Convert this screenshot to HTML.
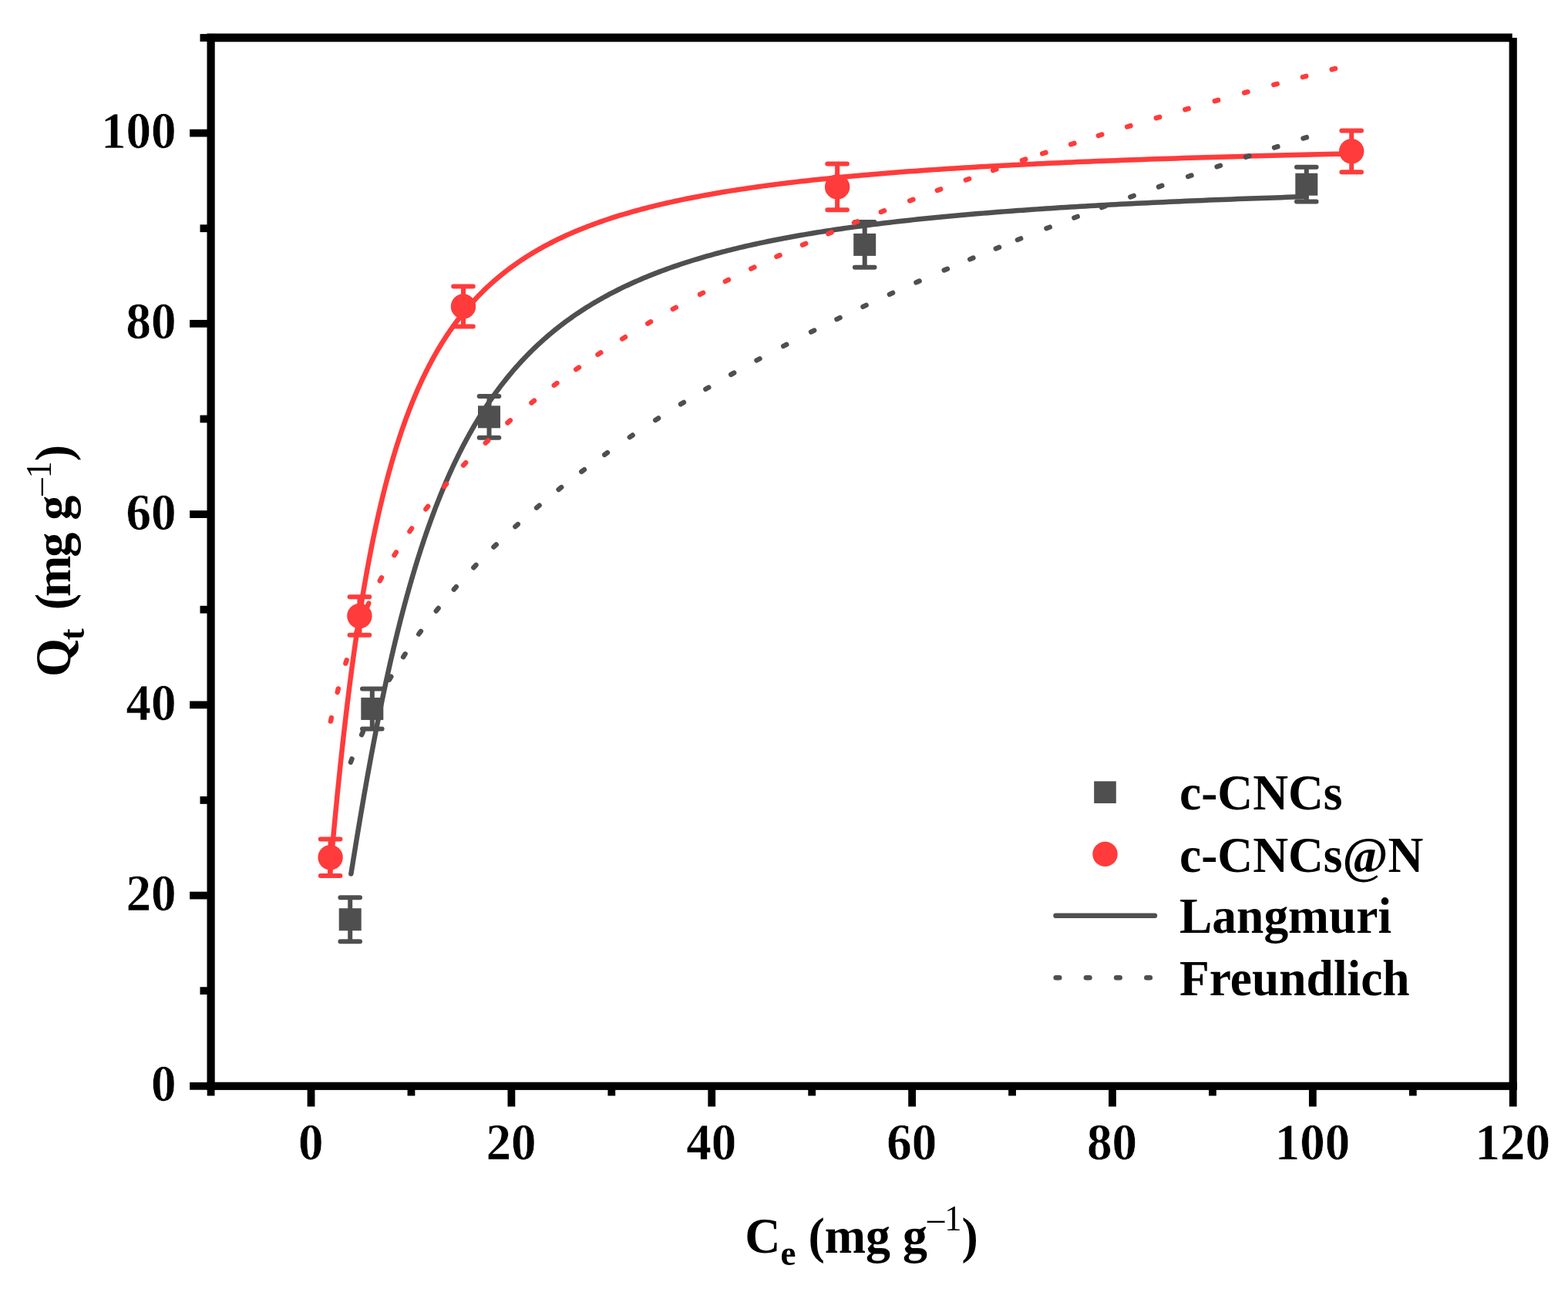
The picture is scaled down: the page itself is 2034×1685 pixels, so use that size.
<!DOCTYPE html>
<html lang="en">
<head>
<meta charset="utf-8">
<title>Adsorption isotherms</title>
<style>
html,body{margin:0;padding:0;background:#fff;}
body{width:2034px;height:1685px;overflow:hidden;}
svg{display:block;}
text{white-space:pre;}
</style>
</head>
<body>
<svg xmlns="http://www.w3.org/2000/svg" width="2034" height="1685" viewBox="0 0 2034 1685" font-family="'Liberation Serif', serif" font-weight="bold" font-size="64" fill="#000">
<style>#ticklabels text{stroke:#fff;stroke-width:0.5px;stroke-linejoin:round}</style>
<rect width="2034" height="1685" fill="#fff"/>
<g id="scatter-gray">
<path d="M454.20,1164.20V1221.20M441.40,1164.20H467.00M441.40,1221.20H467.00" fill="none" stroke="#4f4f4f" stroke-width="6" stroke-linecap="round"/>
<rect x="439.70" y="1178.20" width="29.0" height="29.0" fill="#4f4f4f"/>
<path d="M482.80,893.40V945.40M470.00,893.40H495.60M470.00,945.40H495.60" fill="none" stroke="#4f4f4f" stroke-width="6" stroke-linecap="round"/>
<rect x="468.30" y="904.90" width="29.0" height="29.0" fill="#4f4f4f"/>
<path d="M634.50,513.90V567.70M621.70,513.90H647.30M621.70,567.70H647.30" fill="none" stroke="#4f4f4f" stroke-width="6" stroke-linecap="round"/>
<rect x="620.00" y="526.30" width="29.0" height="29.0" fill="#4f4f4f"/>
<path d="M1121.70,288.10V346.70M1108.90,288.10H1134.50M1108.90,346.70H1134.50" fill="none" stroke="#4f4f4f" stroke-width="6" stroke-linecap="round"/>
<rect x="1107.20" y="302.90" width="29.0" height="29.0" fill="#4f4f4f"/>
<path d="M1694.80,216.80V261.60M1682.00,216.80H1707.60M1682.00,261.60H1707.60" fill="none" stroke="#4f4f4f" stroke-width="6" stroke-linecap="round"/>
<rect x="1680.30" y="224.70" width="29.0" height="29.0" fill="#4f4f4f"/>
</g>
<g id="scatter-red">
<path d="M428.60,1088.40V1136.00M415.80,1088.40H441.40M415.80,1136.00H441.40" fill="none" stroke="#ff3b3b" stroke-width="6" stroke-linecap="round"/>
<circle cx="428.60" cy="1112.20" r="16.2" fill="#ff3b3b"/>
<path d="M466.40,774.20V823.80M453.60,774.20H479.20M453.60,823.80H479.20" fill="none" stroke="#ff3b3b" stroke-width="6" stroke-linecap="round"/>
<circle cx="466.40" cy="799.00" r="16.2" fill="#ff3b3b"/>
<path d="M601.00,371.50V423.50M588.20,371.50H613.80M588.20,423.50H613.80" fill="none" stroke="#ff3b3b" stroke-width="6" stroke-linecap="round"/>
<circle cx="601.00" cy="397.50" r="16.2" fill="#ff3b3b"/>
<path d="M1086.10,212.55V272.25M1073.30,212.55H1098.90M1073.30,272.25H1098.90" fill="none" stroke="#ff3b3b" stroke-width="6" stroke-linecap="round"/>
<circle cx="1086.10" cy="242.40" r="16.2" fill="#ff3b3b"/>
<path d="M1753.20,169.40V223.20M1740.40,169.40H1766.00M1740.40,223.20H1766.00" fill="none" stroke="#ff3b3b" stroke-width="6" stroke-linecap="round"/>
<circle cx="1753.20" cy="196.30" r="16.2" fill="#ff3b3b"/>
</g>
<g id="fits">
<path d="M455.37,1133.54 L455.71,1131.45 L456.05,1129.34 L456.38,1127.22 L456.73,1125.09 L457.07,1122.95 L457.42,1120.80 L457.76,1118.64 L458.12,1116.46 L458.47,1114.28 L458.82,1112.09 L459.18,1109.88 L459.54,1107.66 L459.90,1105.44 L460.27,1103.20 L460.63,1100.95 L461.00,1098.69 L461.37,1096.42 L461.75,1094.14 L462.12,1091.85 L462.50,1089.55 L462.88,1087.24 L463.27,1084.91 L463.65,1082.58 L464.04,1080.24 L464.43,1077.88 L464.83,1075.52 L465.22,1073.14 L465.62,1070.76 L466.02,1068.37 L466.43,1065.96 L466.83,1063.55 L467.24,1061.12 L467.65,1058.69 L468.07,1056.24 L468.49,1053.79 L468.91,1051.33 L469.33,1048.85 L469.75,1046.37 L470.18,1043.88 L470.61,1041.38 L471.05,1038.86 L471.48,1036.34 L471.92,1033.81 L472.36,1031.27 L472.81,1028.73 L473.26,1026.17 L473.71,1023.60 L474.16,1021.03 L474.62,1018.45 L475.08,1015.85 L475.54,1013.25 L476.00,1010.64 L476.47,1008.03 L476.94,1005.40 L477.42,1002.76 L477.90,1000.12 L478.38,997.47 L478.86,994.81 L479.35,992.15 L479.84,989.47 L480.33,986.79 L480.83,984.10 L481.33,981.40 L481.83,978.70 L482.34,975.99 L482.85,973.27 L483.36,970.54 L483.87,967.81 L484.39,965.07 L484.92,962.32 L485.44,959.57 L485.97,956.81 L486.50,954.04 L487.04,951.27 L487.58,948.49 L488.12,945.71 L488.67,942.92 L489.22,940.12 L489.77,937.32 L490.33,934.51 L490.89,931.70 L491.46,928.88 L492.03,926.06 L492.60,923.23 L493.17,920.39 L493.75,917.55 L494.34,914.71 L494.92,911.86 L495.51,909.01 L496.11,906.15 L496.71,903.29 L497.31,900.43 L497.91,897.56 L498.52,894.69 L499.14,891.81 L499.76,888.93 L500.38,886.05 L501.00,883.16 L501.63,880.27 L502.27,877.38 L502.91,874.48 L503.55,871.58 L504.20,868.68 L504.85,865.78 L505.50,862.87 L506.16,859.96 L506.82,857.05 L507.49,854.14 L508.16,851.23 L508.84,848.31 L509.52,845.39 L510.20,842.48 L510.89,839.56 L511.59,836.64 L512.29,833.72 L512.99,830.79 L513.70,827.87 L514.41,824.95 L515.13,822.02 L515.85,819.10 L516.57,816.18 L517.30,813.25 L518.04,810.33 L518.78,807.41 L519.52,804.49 L520.27,801.56 L521.03,798.64 L521.79,795.72 L522.55,792.80 L523.32,789.89 L524.10,786.97 L524.87,784.06 L525.66,781.14 L526.45,778.23 L527.24,775.32 L528.04,772.42 L528.85,769.51 L529.66,766.61 L530.47,763.71 L531.29,760.81 L532.12,757.92 L532.95,755.03 L533.79,752.14 L534.63,749.25 L535.48,746.37 L536.33,743.49 L537.19,740.62 L538.05,737.75 L538.92,734.88 L539.80,732.02 L540.68,729.16 L541.56,726.30 L542.45,723.45 L543.35,720.61 L544.26,717.77 L545.17,714.93 L546.08,712.10 L547.00,709.27 L547.93,706.45 L548.86,703.63 L549.80,700.82 L550.75,698.02 L551.70,695.22 L552.66,692.43 L553.62,689.64 L554.59,686.86 L555.57,684.08 L556.55,681.31 L557.54,678.55 L558.53,675.79 L559.54,673.04 L560.54,670.30 L561.56,667.56 L562.58,664.83 L563.61,662.11 L564.64,659.40 L565.69,656.69 L566.73,653.99 L567.79,651.30 L568.85,648.61 L569.92,645.93 L570.99,643.26 L572.08,640.60 L573.17,637.94 L574.26,635.30 L575.37,632.66 L576.48,630.03 L577.59,627.41 L578.72,624.79 L579.85,622.19 L580.99,619.59 L582.14,617.00 L583.29,614.42 L584.45,611.85 L585.62,609.29 L586.80,606.74 L587.98,604.20 L589.18,601.66 L590.38,599.14 L591.58,596.62 L592.80,594.12 L594.02,591.62 L595.25,589.13 L596.49,586.65 L597.74,584.18 L599.00,581.73 L600.26,579.28 L601.53,576.84 L602.81,574.41 L604.10,571.99 L605.40,569.58 L606.70,567.18 L608.01,564.79 L609.33,562.41 L610.67,560.04 L612.00,557.68 L613.35,555.34 L614.71,553.00 L616.07,550.67 L617.45,548.35 L618.83,546.05 L620.22,543.75 L621.62,541.46 L623.03,539.19 L624.45,536.92 L625.88,534.67 L627.31,532.43 L628.76,530.19 L630.22,527.97 L631.68,525.76 L633.16,523.56 L634.64,521.37 L636.13,519.19 L637.64,517.03 L639.15,514.87 L640.67,512.72 L642.21,510.59 L643.75,508.47 L645.30,506.35 L646.86,504.25 L648.44,502.16 L650.02,500.08 L651.61,498.01 L653.22,495.96 L654.83,493.91 L656.45,491.88 L658.09,489.85 L659.73,487.84 L661.39,485.84 L663.06,483.85 L664.73,481.87 L666.42,479.90 L668.12,477.94 L669.83,476.00 L671.55,474.06 L673.29,472.14 L675.03,470.22 L676.78,468.32 L678.55,466.43 L680.33,464.55 L682.12,462.69 L683.92,460.83 L685.73,458.98 L687.55,457.15 L689.39,455.32 L691.24,453.51 L693.10,451.71 L694.97,449.92 L696.85,448.14 L698.75,446.37 L700.66,444.61 L702.58,442.87 L704.51,441.13 L706.45,439.41 L708.41,437.69 L710.38,435.99 L712.37,434.30 L714.36,432.62 L716.37,430.95 L718.39,429.29 L720.43,427.64 L722.48,426.00 L724.54,424.38 L726.61,422.76 L728.70,421.15 L730.80,419.56 L732.92,417.98 L735.05,416.40 L737.19,414.84 L739.35,413.29 L741.52,411.74 L743.70,410.21 L745.90,408.69 L748.11,407.18 L750.34,405.68 L752.58,404.19 L754.84,402.71 L757.11,401.24 L759.39,399.78 L761.69,398.33 L764.01,396.89 L766.34,395.47 L768.68,394.05 L771.04,392.64 L773.42,391.24 L775.81,389.85 L778.22,388.47 L780.64,387.10 L783.08,385.75 L785.53,384.40 L788.00,383.06 L790.48,381.73 L792.98,380.41 L795.50,379.10 L798.03,377.80 L800.58,376.51 L803.15,375.23 L805.73,373.95 L808.33,372.69 L810.95,371.44 L813.58,370.20 L816.23,368.96 L818.90,367.74 L821.58,366.52 L824.29,365.31 L827.01,364.12 L829.74,362.93 L832.50,361.75 L835.27,360.58 L838.06,359.42 L840.87,358.26 L843.70,357.12 L846.54,355.99 L849.40,354.86 L852.29,353.74 L855.19,352.63 L858.11,351.53 L861.04,350.44 L864.00,349.36 L866.98,348.29 L869.97,347.22 L872.99,346.16 L876.02,345.11 L879.08,344.07 L882.15,343.04 L885.24,342.01 L888.36,341.00 L891.49,339.99 L894.64,338.99 L897.82,338.00 L901.01,337.01 L904.23,336.04 L907.47,335.07 L910.72,334.11 L914.00,333.16 L917.30,332.21 L920.62,331.27 L923.96,330.34 L927.33,329.42 L930.71,328.51 L934.12,327.60 L937.55,326.70 L941.00,325.81 L944.47,324.92 L947.97,324.04 L951.49,323.17 L955.03,322.31 L958.60,321.45 L962.18,320.61 L965.79,319.76 L969.43,318.93 L973.09,318.10 L976.77,317.28 L980.47,316.47 L984.20,315.66 L987.95,314.86 L991.73,314.06 L995.53,313.28 L999.36,312.50 L1003.21,311.72 L1007.09,310.95 L1010.99,310.19 L1014.91,309.44 L1018.87,308.69 L1022.84,307.95 L1026.85,307.21 L1030.87,306.49 L1034.93,305.76 L1039.01,305.05 L1043.12,304.34 L1047.25,303.63 L1051.41,302.93 L1055.60,302.24 L1059.81,301.55 L1064.06,300.87 L1068.33,300.20 L1072.62,299.53 L1076.95,298.87 L1081.30,298.21 L1085.68,297.56 L1090.09,296.91 L1094.53,296.27 L1098.99,295.64 L1103.49,295.01 L1108.01,294.39 L1112.56,293.77 L1117.15,293.16 L1121.76,292.55 L1126.40,291.95 L1131.07,291.35 L1135.78,290.76 L1140.51,290.17 L1145.27,289.59 L1150.07,289.01 L1154.89,288.44 L1159.75,287.88 L1164.64,287.32 L1169.56,286.76 L1174.51,286.21 L1179.49,285.66 L1184.51,285.12 L1189.55,284.59 L1194.63,284.06 L1199.75,283.53 L1204.89,283.01 L1210.07,282.49 L1215.29,281.98 L1220.53,281.47 L1225.81,280.97 L1231.13,280.47 L1236.48,279.97 L1241.86,279.48 L1247.28,279.00 L1252.73,278.51 L1258.22,278.04 L1263.75,277.56 L1269.31,277.10 L1274.90,276.63 L1280.53,276.17 L1286.20,275.72 L1291.91,275.26 L1297.65,274.82 L1303.43,274.37 L1309.24,273.93 L1315.10,273.50 L1320.99,273.07 L1326.92,272.64 L1332.89,272.22 L1338.89,271.80 L1344.94,271.38 L1351.02,270.97 L1357.15,270.56 L1363.31,270.15 L1369.52,269.75 L1375.76,269.36 L1382.04,268.96 L1388.37,268.57 L1394.73,268.19 L1401.14,267.80 L1407.59,267.42 L1414.08,267.05 L1420.61,266.67 L1427.18,266.31 L1433.80,265.94 L1440.46,265.58 L1447.16,265.22 L1453.91,264.86 L1460.69,264.51 L1467.53,264.16 L1474.40,263.82 L1481.33,263.47 L1488.29,263.13 L1495.30,262.80 L1502.36,262.46 L1509.46,262.13 L1516.61,261.81 L1523.80,261.48 L1531.05,261.16 L1538.33,260.84 L1545.67,260.53 L1553.05,260.22 L1560.48,259.91 L1567.96,259.60 L1575.48,259.30 L1583.06,259.00 L1590.68,258.70 L1598.36,258.40 L1606.08,258.11 L1613.85,257.82 L1621.67,257.53 L1629.55,257.25 L1637.47,256.97 L1645.45,256.69 L1653.47,256.41 L1661.55,256.14 L1669.68,255.87 L1677.87,255.60 L1686.10,255.33 L1694.39,255.07" fill="none" stroke="#4f4f4f" stroke-width="6.5" stroke-linecap="round" stroke-linejoin="round"/>
<path d="M428.22,1131.36 L428.42,1129.10 L428.62,1126.83 L428.82,1124.55 L429.02,1122.26 L429.23,1119.95 L429.43,1117.64 L429.64,1115.30 L429.85,1112.96 L430.06,1110.60 L430.28,1108.23 L430.49,1105.85 L430.71,1103.45 L430.93,1101.05 L431.15,1098.62 L431.37,1096.19 L431.60,1093.75 L431.82,1091.29 L432.05,1088.82 L432.28,1086.33 L432.51,1083.84 L432.74,1081.33 L432.98,1078.81 L433.22,1076.28 L433.46,1073.73 L433.70,1071.17 L433.94,1068.60 L434.18,1066.02 L434.43,1063.43 L434.68,1060.82 L434.93,1058.21 L435.18,1055.58 L435.44,1052.94 L435.70,1050.28 L435.95,1047.62 L436.22,1044.94 L436.48,1042.26 L436.74,1039.56 L437.01,1036.85 L437.28,1034.13 L437.55,1031.40 L437.83,1028.65 L438.10,1025.90 L438.38,1023.13 L438.66,1020.36 L438.94,1017.57 L439.23,1014.77 L439.52,1011.96 L439.81,1009.15 L440.10,1006.32 L440.39,1003.48 L440.69,1000.63 L440.99,997.77 L441.29,994.90 L441.59,992.02 L441.90,989.13 L442.21,986.23 L442.52,983.32 L442.83,980.41 L443.15,977.48 L443.47,974.54 L443.79,971.60 L444.12,968.65 L444.44,965.68 L444.77,962.71 L445.10,959.73 L445.44,956.74 L445.78,953.74 L446.12,950.74 L446.46,947.73 L446.80,944.71 L447.15,941.68 L447.50,938.64 L447.86,935.60 L448.21,932.54 L448.57,929.48 L448.94,926.42 L449.30,923.35 L449.67,920.27 L450.04,917.18 L450.42,914.09 L450.79,910.99 L451.18,907.88 L451.56,904.77 L451.95,901.65 L452.34,898.53 L452.73,895.40 L453.12,892.27 L453.52,889.13 L453.93,885.98 L454.33,882.83 L454.74,879.68 L455.15,876.52 L455.57,873.36 L455.99,870.19 L456.41,867.01 L456.84,863.84 L457.26,860.66 L457.70,857.48 L458.13,854.29 L458.57,851.10 L459.02,847.90 L459.46,844.71 L459.91,841.51 L460.37,838.31 L460.82,835.10 L461.29,831.89 L461.75,828.69 L462.22,825.47 L462.69,822.26 L463.17,819.05 L463.65,815.83 L464.13,812.61 L464.62,809.40 L465.11,806.18 L465.61,802.96 L466.11,799.74 L466.61,796.52 L467.12,793.30 L467.63,790.07 L468.15,786.85 L468.67,783.63 L469.19,780.41 L469.72,777.19 L470.25,773.98 L470.79,770.76 L471.33,767.54 L471.88,764.33 L472.43,761.11 L472.98,757.90 L473.54,754.69 L474.10,751.49 L474.67,748.28 L475.25,745.08 L475.82,741.88 L476.40,738.68 L476.99,735.49 L477.58,732.29 L478.18,729.11 L478.78,725.92 L479.39,722.74 L480.00,719.56 L480.61,716.39 L481.23,713.22 L481.86,710.06 L482.49,706.89 L483.12,703.74 L483.76,700.59 L484.41,697.44 L485.06,694.30 L485.72,691.16 L486.38,688.03 L487.05,684.91 L487.72,681.79 L488.40,678.68 L489.08,675.57 L489.77,672.47 L490.46,669.37 L491.16,666.29 L491.87,663.20 L492.58,660.13 L493.30,657.06 L494.02,654.00 L494.75,650.95 L495.48,647.90 L496.22,644.86 L496.97,641.83 L497.72,638.81 L498.48,635.79 L499.24,632.78 L500.01,629.78 L500.79,626.79 L501.57,623.81 L502.36,620.84 L503.16,617.87 L503.96,614.91 L504.77,611.97 L505.58,609.03 L506.41,606.10 L507.23,603.18 L508.07,600.27 L508.91,597.37 L509.76,594.47 L510.61,591.59 L511.48,588.72 L512.34,585.86 L513.22,583.01 L514.10,580.16 L514.99,577.33 L515.89,574.51 L516.80,571.70 L517.71,568.90 L518.63,566.11 L519.55,563.33 L520.49,560.56 L521.43,557.80 L522.38,555.06 L523.34,552.32 L524.30,549.60 L525.27,546.89 L526.25,544.18 L527.24,541.49 L528.24,538.81 L529.24,536.15 L530.25,533.49 L531.27,530.85 L532.30,528.21 L533.34,525.59 L534.38,522.99 L535.44,520.39 L536.50,517.80 L537.57,515.23 L538.65,512.67 L539.73,510.12 L540.83,507.59 L541.94,505.06 L543.05,502.55 L544.17,500.05 L545.31,497.56 L546.45,495.09 L547.60,492.63 L548.76,490.18 L549.93,487.74 L551.11,485.32 L552.29,482.90 L553.49,480.51 L554.70,478.12 L555.92,475.75 L557.14,473.38 L558.38,471.04 L559.63,468.70 L560.88,466.38 L562.15,464.07 L563.43,461.77 L564.71,459.49 L566.01,457.22 L567.32,454.96 L568.64,452.71 L569.97,450.48 L571.31,448.26 L572.66,446.05 L574.02,443.86 L575.39,441.68 L576.77,439.51 L578.17,437.36 L579.58,435.22 L580.99,433.09 L582.42,430.97 L583.86,428.87 L585.31,426.78 L586.78,424.70 L588.25,422.64 L589.74,420.59 L591.24,418.55 L592.75,416.52 L594.27,414.51 L595.81,412.51 L597.36,410.53 L598.92,408.55 L600.49,406.59 L602.07,404.64 L603.67,402.71 L605.28,400.79 L606.91,398.88 L608.55,396.98 L610.20,395.09 L611.86,393.22 L613.54,391.36 L615.23,389.52 L616.93,387.68 L618.65,385.86 L620.38,384.05 L622.13,382.26 L623.89,380.47 L625.66,378.70 L627.45,376.94 L629.25,375.20 L631.07,373.46 L632.90,371.74 L634.75,370.03 L636.61,368.34 L638.49,366.65 L640.38,364.98 L642.28,363.32 L644.21,361.67 L646.14,360.03 L648.10,358.41 L650.06,356.79 L652.05,355.19 L654.05,353.60 L656.07,352.03 L658.10,350.46 L660.15,348.91 L662.22,347.37 L664.30,345.84 L666.40,344.32 L668.51,342.81 L670.65,341.31 L672.80,339.83 L674.96,338.36 L677.15,336.89 L679.35,335.44 L681.57,334.00 L683.81,332.58 L686.07,331.16 L688.34,329.75 L690.64,328.36 L692.95,326.97 L695.28,325.60 L697.63,324.24 L699.99,322.89 L702.38,321.55 L704.79,320.22 L707.21,318.90 L709.66,317.59 L712.12,316.29 L714.60,315.00 L717.11,313.73 L719.63,312.46 L722.18,311.20 L724.74,309.95 L727.33,308.72 L729.94,307.49 L732.56,306.28 L735.21,305.07 L737.88,303.87 L740.57,302.69 L743.29,301.51 L746.02,300.34 L748.78,299.19 L751.56,298.04 L754.36,296.90 L757.19,295.77 L760.03,294.66 L762.90,293.55 L765.80,292.45 L768.71,291.36 L771.65,290.27 L774.62,289.20 L777.60,288.14 L780.61,287.08 L783.65,286.04 L786.71,285.00 L789.79,283.98 L792.90,282.96 L796.04,281.95 L799.20,280.95 L802.38,279.96 L805.60,278.97 L808.83,278.00 L812.09,277.03 L815.38,276.07 L818.70,275.12 L822.04,274.18 L825.41,273.25 L828.81,272.32 L832.23,271.41 L835.68,270.50 L839.16,269.60 L842.67,268.70 L846.20,267.82 L849.77,266.94 L853.36,266.07 L856.98,265.21 L860.63,264.36 L864.31,263.51 L868.02,262.67 L871.76,261.84 L875.53,261.02 L879.33,260.20 L883.16,259.39 L887.02,258.59 L890.91,257.80 L894.84,257.01 L898.79,256.23 L902.78,255.46 L906.80,254.69 L910.85,253.93 L914.93,253.18 L919.05,252.44 L923.20,251.70 L927.39,250.97 L931.60,250.24 L935.85,249.52 L940.14,248.81 L944.46,248.11 L948.81,247.41 L953.20,246.71 L957.63,246.03 L962.09,245.35 L966.59,244.68 L971.12,244.01 L975.69,243.35 L980.29,242.69 L984.94,242.05 L989.62,241.40 L994.34,240.77 L999.09,240.14 L1003.89,239.51 L1008.72,238.89 L1013.59,238.28 L1018.50,237.67 L1023.45,237.07 L1028.45,236.47 L1033.48,235.88 L1038.55,235.30 L1043.66,234.72 L1048.81,234.15 L1054.01,233.58 L1059.24,233.01 L1064.52,232.46 L1069.84,231.90 L1075.21,231.36 L1080.62,230.82 L1086.07,230.28 L1091.56,229.75 L1097.10,229.22 L1102.68,228.70 L1108.31,228.18 L1113.99,227.67 L1119.71,227.16 L1125.47,226.66 L1131.28,226.16 L1137.14,225.67 L1143.05,225.18 L1149.00,224.70 L1155.00,224.22 L1161.05,223.75 L1167.15,223.28 L1173.30,222.81 L1179.50,222.35 L1185.74,221.90 L1192.04,221.45 L1198.39,221.00 L1204.79,220.56 L1211.24,220.12 L1217.74,219.68 L1224.29,219.25 L1230.90,218.83 L1237.56,218.41 L1244.28,217.99 L1251.04,217.57 L1257.87,217.17 L1264.75,216.76 L1271.68,216.36 L1278.67,215.96 L1285.71,215.57 L1292.81,215.18 L1299.97,214.79 L1307.19,214.41 L1314.47,214.03 L1321.80,213.65 L1329.19,213.28 L1336.64,212.91 L1344.16,212.55 L1351.73,212.19 L1359.36,211.83 L1367.06,211.48 L1374.81,211.13 L1382.63,210.78 L1390.51,210.44 L1398.46,210.10 L1406.47,209.76 L1414.54,209.43 L1422.68,209.10 L1430.89,208.77 L1439.16,208.45 L1447.50,208.13 L1455.90,207.81 L1464.37,207.50 L1472.91,207.19 L1481.52,206.88 L1490.20,206.58 L1498.95,206.28 L1507.77,205.98 L1516.66,205.68 L1525.62,205.39 L1534.65,205.10 L1543.76,204.81 L1552.94,204.53 L1562.19,204.25 L1571.52,203.97 L1580.92,203.69 L1590.40,203.42 L1599.95,203.15 L1609.58,202.88 L1619.29,202.62 L1629.08,202.35 L1638.95,202.09 L1648.89,201.84 L1658.92,201.58 L1669.03,201.33 L1679.21,201.08 L1689.48,200.83 L1699.84,200.59 L1710.27,200.35 L1720.79,200.11 L1731.40,199.87 L1742.09,199.64 L1752.86,199.40" fill="none" stroke="#ff3b3b" stroke-width="6.5" stroke-linecap="round" stroke-linejoin="round"/>
<path d="M454.92,988.73L456.52,984.41" stroke="#4f4f4f" stroke-width="6.4" stroke-linecap="round" fill="none"/>
<path d="M469.11,953.15L470.95,948.93" stroke="#4f4f4f" stroke-width="6.4" stroke-linecap="round" fill="none"/>
<path d="M486.05,916.87L488.13,912.77" stroke="#4f4f4f" stroke-width="6.4" stroke-linecap="round" fill="none"/>
<path d="M505.05,881.69L507.37,877.71" stroke="#4f4f4f" stroke-width="6.4" stroke-linecap="round" fill="none"/>
<path d="M523.09,852.15L525.59,848.29" stroke="#4f4f4f" stroke-width="6.4" stroke-linecap="round" fill="none"/>
<path d="M543.23,822.50L545.91,818.77" stroke="#4f4f4f" stroke-width="6.4" stroke-linecap="round" fill="none"/>
<path d="M565.79,792.49L568.65,788.89" stroke="#4f4f4f" stroke-width="6.4" stroke-linecap="round" fill="none"/>
<path d="M588.84,764.58L591.85,761.11" stroke="#4f4f4f" stroke-width="6.4" stroke-linecap="round" fill="none"/>
<path d="M614.34,736.28L617.50,732.94" stroke="#4f4f4f" stroke-width="6.4" stroke-linecap="round" fill="none"/>
<path d="M640.45,709.59L643.73,706.37" stroke="#4f4f4f" stroke-width="6.4" stroke-linecap="round" fill="none"/>
<path d="M668.39,683.11L671.79,680.02" stroke="#4f4f4f" stroke-width="6.4" stroke-linecap="round" fill="none"/>
<path d="M696.09,658.63L699.60,655.65" stroke="#4f4f4f" stroke-width="6.4" stroke-linecap="round" fill="none"/>
<path d="M724.62,635.00L728.21,632.12" stroke="#4f4f4f" stroke-width="6.4" stroke-linecap="round" fill="none"/>
<path d="M754.28,611.86L757.95,609.09" stroke="#4f4f4f" stroke-width="6.4" stroke-linecap="round" fill="none"/>
<path d="M784.23,589.79L787.98,587.12" stroke="#4f4f4f" stroke-width="6.4" stroke-linecap="round" fill="none"/>
<path d="M816.81,567.06L820.62,564.48" stroke="#4f4f4f" stroke-width="6.4" stroke-linecap="round" fill="none"/>
<path d="M850.24,544.95L854.11,542.46" stroke="#4f4f4f" stroke-width="6.4" stroke-linecap="round" fill="none"/>
<path d="M883.02,524.31L886.94,521.90" stroke="#4f4f4f" stroke-width="6.4" stroke-linecap="round" fill="none"/>
<path d="M915.35,504.85L919.32,502.52" stroke="#4f4f4f" stroke-width="6.4" stroke-linecap="round" fill="none"/>
<path d="M948.22,485.90L952.23,483.64" stroke="#4f4f4f" stroke-width="6.4" stroke-linecap="round" fill="none"/>
<path d="M981.47,467.49L985.51,465.30" stroke="#4f4f4f" stroke-width="6.4" stroke-linecap="round" fill="none"/>
<path d="M1016.21,448.99L1020.29,446.86" stroke="#4f4f4f" stroke-width="6.4" stroke-linecap="round" fill="none"/>
<path d="M1052.09,430.60L1056.20,428.54" stroke="#4f4f4f" stroke-width="6.4" stroke-linecap="round" fill="none"/>
<path d="M1085.47,414.09L1089.60,412.09" stroke="#4f4f4f" stroke-width="6.4" stroke-linecap="round" fill="none"/>
<path d="M1119.45,397.83L1123.61,395.88" stroke="#4f4f4f" stroke-width="6.4" stroke-linecap="round" fill="none"/>
<path d="M1153.92,381.86L1158.10,379.95" stroke="#4f4f4f" stroke-width="6.4" stroke-linecap="round" fill="none"/>
<path d="M1188.41,366.35L1192.62,364.50" stroke="#4f4f4f" stroke-width="6.4" stroke-linecap="round" fill="none"/>
<path d="M1224.69,350.53L1228.92,348.72" stroke="#4f4f4f" stroke-width="6.4" stroke-linecap="round" fill="none"/>
<path d="M1258.17,336.34L1262.42,334.56" stroke="#4f4f4f" stroke-width="6.4" stroke-linecap="round" fill="none"/>
<path d="M1291.81,322.44L1296.07,320.71" stroke="#4f4f4f" stroke-width="6.4" stroke-linecap="round" fill="none"/>
<path d="M1319.90,311.11L1324.17,309.40" stroke="#4f4f4f" stroke-width="6.4" stroke-linecap="round" fill="none"/>
<path d="M1357.47,296.30L1361.76,294.64" stroke="#4f4f4f" stroke-width="6.4" stroke-linecap="round" fill="none"/>
<path d="M1393.42,282.50L1397.72,280.87" stroke="#4f4f4f" stroke-width="6.4" stroke-linecap="round" fill="none"/>
<path d="M1429.12,269.11L1433.43,267.52" stroke="#4f4f4f" stroke-width="6.4" stroke-linecap="round" fill="none"/>
<path d="M1466.34,255.49L1470.66,253.92" stroke="#4f4f4f" stroke-width="6.4" stroke-linecap="round" fill="none"/>
<path d="M1503.01,242.37L1507.34,240.84" stroke="#4f4f4f" stroke-width="6.4" stroke-linecap="round" fill="none"/>
<path d="M1541.15,229.03L1545.50,227.53" stroke="#4f4f4f" stroke-width="6.4" stroke-linecap="round" fill="none"/>
<path d="M1578.58,216.23L1582.94,214.75" stroke="#4f4f4f" stroke-width="6.4" stroke-linecap="round" fill="none"/>
<path d="M1616.13,203.66L1620.49,202.21" stroke="#4f4f4f" stroke-width="6.4" stroke-linecap="round" fill="none"/>
<path d="M1653.05,191.54L1657.42,190.12" stroke="#4f4f4f" stroke-width="6.4" stroke-linecap="round" fill="none"/>
<path d="M1690.51,179.49L1694.90,178.10" stroke="#4f4f4f" stroke-width="6.4" stroke-linecap="round" fill="none"/>
<path d="M428.94,935.54L429.88,931.04" stroke="#ff3b3b" stroke-width="6.4" stroke-linecap="round" fill="none"/>
<path d="M437.67,897.87L438.83,893.42" stroke="#ff3b3b" stroke-width="6.4" stroke-linecap="round" fill="none"/>
<path d="M448.33,860.59L449.72,856.21" stroke="#ff3b3b" stroke-width="6.4" stroke-linecap="round" fill="none"/>
<path d="M461.28,823.29L462.93,819.00" stroke="#ff3b3b" stroke-width="6.4" stroke-linecap="round" fill="none"/>
<path d="M476.43,786.85L478.34,782.66" stroke="#ff3b3b" stroke-width="6.4" stroke-linecap="round" fill="none"/>
<path d="M492.80,753.32L494.95,749.26" stroke="#ff3b3b" stroke-width="6.4" stroke-linecap="round" fill="none"/>
<path d="M511.47,720.24L513.87,716.32" stroke="#ff3b3b" stroke-width="6.4" stroke-linecap="round" fill="none"/>
<path d="M531.43,689.28L534.05,685.50" stroke="#ff3b3b" stroke-width="6.4" stroke-linecap="round" fill="none"/>
<path d="M552.40,660.41L555.21,656.77" stroke="#ff3b3b" stroke-width="6.4" stroke-linecap="round" fill="none"/>
<path d="M576.15,631.13L579.16,627.65" stroke="#ff3b3b" stroke-width="6.4" stroke-linecap="round" fill="none"/>
<path d="M601.05,603.50L604.22,600.17" stroke="#ff3b3b" stroke-width="6.4" stroke-linecap="round" fill="none"/>
<path d="M629.78,574.65L633.11,571.48" stroke="#ff3b3b" stroke-width="6.4" stroke-linecap="round" fill="none"/>
<path d="M658.42,548.47L661.89,545.45" stroke="#ff3b3b" stroke-width="6.4" stroke-linecap="round" fill="none"/>
<path d="M689.39,522.52L692.99,519.64" stroke="#ff3b3b" stroke-width="6.4" stroke-linecap="round" fill="none"/>
<path d="M718.78,499.75L722.47,497.01" stroke="#ff3b3b" stroke-width="6.4" stroke-linecap="round" fill="none"/>
<path d="M747.23,479.16L751.00,476.53" stroke="#ff3b3b" stroke-width="6.4" stroke-linecap="round" fill="none"/>
<path d="M775.49,459.93L779.33,457.40" stroke="#ff3b3b" stroke-width="6.4" stroke-linecap="round" fill="none"/>
<path d="M807.14,439.63L811.05,437.20" stroke="#ff3b3b" stroke-width="6.4" stroke-linecap="round" fill="none"/>
<path d="M840.16,419.67L844.13,417.35" stroke="#ff3b3b" stroke-width="6.4" stroke-linecap="round" fill="none"/>
<path d="M872.81,401.01L876.83,398.78" stroke="#ff3b3b" stroke-width="6.4" stroke-linecap="round" fill="none"/>
<path d="M908.04,381.92L912.11,379.78" stroke="#ff3b3b" stroke-width="6.4" stroke-linecap="round" fill="none"/>
<path d="M940.88,365.00L944.99,362.93" stroke="#ff3b3b" stroke-width="6.4" stroke-linecap="round" fill="none"/>
<path d="M974.27,348.56L978.41,346.57" stroke="#ff3b3b" stroke-width="6.4" stroke-linecap="round" fill="none"/>
<path d="M1007.43,332.93L1011.61,331.00" stroke="#ff3b3b" stroke-width="6.4" stroke-linecap="round" fill="none"/>
<path d="M1041.00,317.73L1045.21,315.87" stroke="#ff3b3b" stroke-width="6.4" stroke-linecap="round" fill="none"/>
<path d="M1074.34,303.22L1078.57,301.42" stroke="#ff3b3b" stroke-width="6.4" stroke-linecap="round" fill="none"/>
<path d="M1107.88,289.15L1112.14,287.40" stroke="#ff3b3b" stroke-width="6.4" stroke-linecap="round" fill="none"/>
<path d="M1142.75,275.04L1147.03,273.34" stroke="#ff3b3b" stroke-width="6.4" stroke-linecap="round" fill="none"/>
<path d="M1180.15,260.44L1184.44,258.80" stroke="#ff3b3b" stroke-width="6.4" stroke-linecap="round" fill="none"/>
<path d="M1215.83,247.00L1220.14,245.40" stroke="#ff3b3b" stroke-width="6.4" stroke-linecap="round" fill="none"/>
<path d="M1252.83,233.50L1257.16,231.95" stroke="#ff3b3b" stroke-width="6.4" stroke-linecap="round" fill="none"/>
<path d="M1288.06,221.06L1292.40,219.55" stroke="#ff3b3b" stroke-width="6.4" stroke-linecap="round" fill="none"/>
<path d="M1325.91,208.09L1330.27,206.62" stroke="#ff3b3b" stroke-width="6.4" stroke-linecap="round" fill="none"/>
<path d="M1352.14,199.33L1356.51,197.89" stroke="#ff3b3b" stroke-width="6.4" stroke-linecap="round" fill="none"/>
<path d="M1389.10,187.28L1393.48,185.88" stroke="#ff3b3b" stroke-width="6.4" stroke-linecap="round" fill="none"/>
<path d="M1424.92,175.93L1429.31,174.56" stroke="#ff3b3b" stroke-width="6.4" stroke-linecap="round" fill="none"/>
<path d="M1462.10,164.45L1466.50,163.11" stroke="#ff3b3b" stroke-width="6.4" stroke-linecap="round" fill="none"/>
<path d="M1499.78,153.12L1504.19,151.81" stroke="#ff3b3b" stroke-width="6.4" stroke-linecap="round" fill="none"/>
<path d="M1537.28,142.12L1541.70,140.85" stroke="#ff3b3b" stroke-width="6.4" stroke-linecap="round" fill="none"/>
<path d="M1575.75,131.12L1580.18,129.87" stroke="#ff3b3b" stroke-width="6.4" stroke-linecap="round" fill="none"/>
<path d="M1614.13,120.41L1618.56,119.18" stroke="#ff3b3b" stroke-width="6.4" stroke-linecap="round" fill="none"/>
<path d="M1652.22,110.02L1656.66,108.82" stroke="#ff3b3b" stroke-width="6.4" stroke-linecap="round" fill="none"/>
<path d="M1689.83,99.99L1694.28,98.82" stroke="#ff3b3b" stroke-width="6.4" stroke-linecap="round" fill="none"/>
<path d="M1727.65,90.12L1732.11,88.97" stroke="#ff3b3b" stroke-width="6.4" stroke-linecap="round" fill="none"/>
</g>
<g id="axes" stroke="#000" fill="none">
<rect x="268.50" y="43.90" width="10.2" height="1370.00" fill="#000" stroke="none"/>
<rect x="268.50" y="1403.70" width="1699.30" height="10.2" fill="#000" stroke="none"/>
<rect x="268.50" y="43.50" width="1693.20" height="10.799999999999999" fill="#000" stroke="none"/>
<rect x="1957.60" y="49.00" width="10.2" height="1364.90" fill="#000" stroke="none"/>
<rect x="246.10" y="1403.90" width="23.40" height="9.8" fill="#000" stroke="none"/>
<rect x="259.50" y="1280.28" width="10.00" height="9.8" fill="#000" stroke="none"/>
<rect x="246.10" y="1156.66" width="23.40" height="9.8" fill="#000" stroke="none"/>
<rect x="259.50" y="1033.05" width="10.00" height="9.8" fill="#000" stroke="none"/>
<rect x="246.10" y="909.43" width="23.40" height="9.8" fill="#000" stroke="none"/>
<rect x="259.50" y="785.81" width="10.00" height="9.8" fill="#000" stroke="none"/>
<rect x="246.10" y="662.19" width="23.40" height="9.8" fill="#000" stroke="none"/>
<rect x="259.50" y="538.57" width="10.00" height="9.8" fill="#000" stroke="none"/>
<rect x="246.10" y="414.95" width="23.40" height="9.8" fill="#000" stroke="none"/>
<rect x="259.50" y="291.34" width="10.00" height="9.8" fill="#000" stroke="none"/>
<rect x="246.10" y="167.72" width="23.40" height="9.8" fill="#000" stroke="none"/>
<rect x="259.50" y="44.10" width="10.00" height="9.8" fill="#000" stroke="none"/>
<rect x="268.70" y="1412.90" width="9.8" height="8.50" fill="#000" stroke="none"/>
<rect x="398.63" y="1412.90" width="9.8" height="22.50" fill="#000" stroke="none"/>
<rect x="528.56" y="1412.90" width="9.8" height="8.50" fill="#000" stroke="none"/>
<rect x="658.49" y="1412.90" width="9.8" height="22.50" fill="#000" stroke="none"/>
<rect x="788.42" y="1412.90" width="9.8" height="8.50" fill="#000" stroke="none"/>
<rect x="918.35" y="1412.90" width="9.8" height="22.50" fill="#000" stroke="none"/>
<rect x="1048.28" y="1412.90" width="9.8" height="8.50" fill="#000" stroke="none"/>
<rect x="1178.22" y="1412.90" width="9.8" height="22.50" fill="#000" stroke="none"/>
<rect x="1308.15" y="1412.90" width="9.8" height="8.50" fill="#000" stroke="none"/>
<rect x="1438.08" y="1412.90" width="9.8" height="22.50" fill="#000" stroke="none"/>
<rect x="1568.01" y="1412.90" width="9.8" height="8.50" fill="#000" stroke="none"/>
<rect x="1697.94" y="1412.90" width="9.8" height="22.50" fill="#000" stroke="none"/>
<rect x="1827.87" y="1412.90" width="9.8" height="8.50" fill="#000" stroke="none"/>
<rect x="1957.80" y="1412.90" width="9.8" height="22.50" fill="#000" stroke="none"/>
</g>
<g id="ticklabels">
<text transform="translate(403.13,1504.00) scale(1,1.03)" font-size="65" text-anchor="middle">0</text>
<text transform="translate(662.99,1504.00) scale(1,1.03)" font-size="65" text-anchor="middle">20</text>
<text transform="translate(922.85,1504.00) scale(1,1.03)" font-size="65" text-anchor="middle">40</text>
<text transform="translate(1182.72,1504.00) scale(1,1.03)" font-size="65" text-anchor="middle">60</text>
<text transform="translate(1442.58,1504.00) scale(1,1.03)" font-size="65" text-anchor="middle">80</text>
<text transform="translate(1702.44,1504.00) scale(1,1.03)" font-size="65" text-anchor="middle">100</text>
<text transform="translate(1962.30,1504.00) scale(1,1.03)" font-size="65" text-anchor="middle">120</text>
<text transform="translate(228.60,1428.30) scale(1,1.03)" font-size="65" text-anchor="end">0</text>
<text transform="translate(228.60,1181.06) scale(1,1.03)" font-size="65" text-anchor="end">20</text>
<text transform="translate(228.60,933.83) scale(1,1.03)" font-size="65" text-anchor="end">40</text>
<text transform="translate(228.60,686.59) scale(1,1.03)" font-size="65" text-anchor="end">60</text>
<text transform="translate(228.60,439.35) scale(1,1.03)" font-size="65" text-anchor="end">80</text>
<text transform="translate(228.60,192.12) scale(1,1.03)" font-size="65" text-anchor="end">100</text>
</g>
<text transform="translate(1117.50,1624.50) scale(1,1.04)" id="xtitle" font-size="64" text-anchor="middle">C<tspan font-size="45" dy="16">e</tspan><tspan dy="-16"> (mg g</tspan><tspan font-size="44.5" dy="-27.5" font-weight="normal">–1</tspan><tspan dy="27.5">)</tspan></text>
<text transform="translate(91.00,727.50) rotate(-90) scale(1,1.04)" id="ytitle" font-size="64" text-anchor="middle">Q<tspan font-size="45" dy="17" dx="-2">t</tspan><tspan dy="-17" dx="8 0 -4 -2"> (mg g</tspan><tspan font-size="44.5" dy="-24.5" font-weight="normal">–1</tspan><tspan dy="24.5">)</tspan></text>
<g id="legend">
<rect x="1419.20" y="1013.40" width="28.6" height="28.6" fill="#4f4f4f"/>
<circle cx="1433.5" cy="1107.9" r="16.2" fill="#ff3b3b"/>
<path d="M1369.5,1187.8H1498" stroke="#4f4f4f" stroke-width="6.5" stroke-linecap="round"/>
<path d="M1369.70,1268.20L1374.30,1268.20" stroke="#4f4f4f" stroke-width="6.4" stroke-linecap="round" fill="none"/>
<path d="M1408.90,1268.20L1413.50,1268.20" stroke="#4f4f4f" stroke-width="6.4" stroke-linecap="round" fill="none"/>
<path d="M1448.10,1268.20L1452.70,1268.20" stroke="#4f4f4f" stroke-width="6.4" stroke-linecap="round" fill="none"/>
<path d="M1487.30,1268.20L1491.90,1268.20" stroke="#4f4f4f" stroke-width="6.4" stroke-linecap="round" fill="none"/>
<text transform="translate(1530.00,1050.40) scale(1,1.03)" font-size="63.5">c-CNCs</text>
<text transform="translate(1530.00,1131.20) scale(1,1.03)" font-size="63.5">c-CNCs@N</text>
<text transform="translate(1530.00,1210.20) scale(1,1.03)" font-size="63.5">Langmuri</text>
<text transform="translate(1530.00,1290.60) scale(1,1.03)" font-size="63.5">Freundlich</text>
</g>
</svg>
</body>
</html>
